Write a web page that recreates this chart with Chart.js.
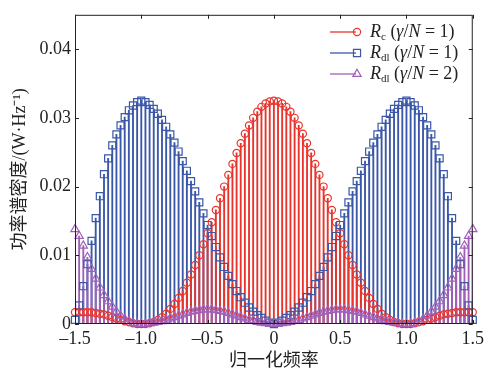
<!DOCTYPE html>
<html>
<head>
<meta charset="utf-8">
<script src="https://cdn.jsdelivr.net/npm/chart.js@4"></script>
<style>
  body { margin: 0; background: #fff; }
  #wrap { width: 488px; height: 370px; }
</style>
</head>
<body>
<div id="wrap"><canvas id="psd"></canvas></div>
<script>
// normalized frequency grid (step 1/32)
const freq = [-1.5, -1.46875, -1.4375, -1.40625, -1.375, -1.34375, -1.3125, -1.28125, -1.25, -1.21875, -1.1875, -1.15625,
  -1.125, -1.09375, -1.0625, -1.03125, -1, -0.96875, -0.9375, -0.90625, -0.875, -0.84375, -0.8125, -0.78125,
  -0.75, -0.71875, -0.6875, -0.65625, -0.625, -0.59375, -0.5625, -0.53125, -0.5, -0.46875, -0.4375, -0.40625,
  -0.375, -0.34375, -0.3125, -0.28125, -0.25, -0.21875, -0.1875, -0.15625, -0.125, -0.09375, -0.0625, -0.03125,
  0,
  0.03125, 0.0625, 0.09375, 0.125, 0.15625, 0.1875, 0.21875, 0.25, 0.28125, 0.3125, 0.34375, 0.375,
  0.40625, 0.4375, 0.46875, 0.5, 0.53125, 0.5625, 0.59375, 0.625, 0.65625, 0.6875, 0.71875, 0.75,
  0.78125, 0.8125, 0.84375, 0.875, 0.90625, 0.9375, 0.96875, 1, 1.03125, 1.0625, 1.09375, 1.125,
  1.15625, 1.1875, 1.21875, 1.25, 1.28125, 1.3125, 1.34375, 1.375, 1.40625, 1.4375, 1.46875, 1.5];

// R_c (gamma/N = 1)
const rc = [0.0017, 0.0017, 0.0017, 0.0017, 0.0017, 0.0016, 0.0015, 0.0014, 0.0012, 0.0010, 0.0008, 0.0006,
  0.0004, 0.0003, 0.0001, 0, 0, 0, 0.0001, 0.0003, 0.0006, 0.0010, 0.0015, 0.0022,
  0.0029, 0.0038, 0.0048, 0.0060, 0.0072, 0.0086, 0.0100, 0.0116, 0.0132, 0.0148, 0.0166, 0.0183,
  0.0200, 0.0217, 0.0233, 0.0249, 0.0263, 0.0277, 0.0289, 0.0300, 0.0309, 0.0316, 0.0321, 0.0324,
  0.0325,
  0.0324, 0.0321, 0.0316, 0.0309, 0.0300, 0.0289, 0.0277, 0.0263, 0.0249, 0.0233, 0.0217, 0.0200,
  0.0183, 0.0166, 0.0148, 0.0132, 0.0116, 0.0100, 0.0086, 0.0072, 0.0060, 0.0048, 0.0038, 0.0029,
  0.0022, 0.0015, 0.0010, 0.0006, 0.0003, 0.0001, 0, 0, 0, 0.0001, 0.0003, 0.0004,
  0.0006, 0.0008, 0.0010, 0.0012, 0.0014, 0.0015, 0.0016, 0.0017, 0.0017, 0.0017, 0.0017, 0.0017];

// R_dl (gamma/N = 1)
const rdl1 = [0.0006, 0.0027, 0.0055, 0.0087, 0.0121, 0.0154, 0.0186, 0.0218, 0.0241, 0.0260, 0.0276, 0.0289,
  0.0301, 0.0311, 0.0318, 0.0323, 0.0325, 0.0323, 0.0319, 0.0313, 0.0306, 0.0297, 0.0287, 0.0276,
  0.0264, 0.0251, 0.0237, 0.0223, 0.0208, 0.0193, 0.0177, 0.0161, 0.0144, 0.0128, 0.0112, 0.0097,
  0.0083, 0.0070, 0.0058, 0.0048, 0.0039, 0.0031, 0.0024, 0.0018, 0.0013, 0.0009, 0.0005, 0.0002,
  0,
  0.0002, 0.0005, 0.0009, 0.0013, 0.0018, 0.0024, 0.0031, 0.0039, 0.0048, 0.0058, 0.0070, 0.0083,
  0.0097, 0.0112, 0.0128, 0.0144, 0.0161, 0.0177, 0.0193, 0.0208, 0.0223, 0.0237, 0.0251, 0.0264,
  0.0276, 0.0287, 0.0297, 0.0306, 0.0313, 0.0319, 0.0323, 0.0325, 0.0323, 0.0318, 0.0311, 0.0301,
  0.0289, 0.0276, 0.0260, 0.0241, 0.0218, 0.0186, 0.0154, 0.0121, 0.0087, 0.0055, 0.0027, 0.0006];

// R_dl (gamma/N = 2)
const rdl2 = [0.0138, 0.0128, 0.0114, 0.0097, 0.0080, 0.0066, 0.0053, 0.0042, 0.0033, 0.0025, 0.0018, 0.0012,
  0.0007, 0.0004, 0.0001, 0, 0, 0, 0.0001, 0.0002, 0.0003, 0.0004, 0.0006, 0.0008,
  0.0010, 0.0012, 0.0014, 0.0016, 0.0018, 0.0019, 0.0020, 0.0021, 0.0021, 0.0021, 0.0020, 0.0019,
  0.0018, 0.0016, 0.0014, 0.0012, 0.0010, 0.0008, 0.0006, 0.0005, 0.0003, 0.0002, 0.0001, 0,
  0,
  0, 0.0001, 0.0002, 0.0003, 0.0005, 0.0006, 0.0008, 0.0010, 0.0012, 0.0014, 0.0016, 0.0018,
  0.0019, 0.0020, 0.0021, 0.0021, 0.0021, 0.0020, 0.0019, 0.0018, 0.0016, 0.0014, 0.0012, 0.0010,
  0.0008, 0.0006, 0.0004, 0.0003, 0.0002, 0.0001, 0, 0, 0, 0.0001, 0.0004, 0.0007,
  0.0012, 0.0018, 0.0025, 0.0033, 0.0042, 0.0053, 0.0066, 0.0080, 0.0097, 0.0114, 0.0128, 0.0138];

const xTicks = [-1.5, -1, -0.5, 0, 0.5, 1, 1.5];
const yTicks = [0, 0.01, 0.02, 0.03, 0.04];

const RED = '#e8342c', BLUE = '#3a57a8', PURPLE = '#a060b8';
const serif = "'Liberation Serif', 'Noto Sans CJK SC', serif";

function pts(vals) {
  return freq.map((x, i) => ({ x: x, y: vals[i] }));
}

// stems drawn as thin bars, overlaid (not grouped) at the same x
function stem(vals, color, order) {
  return { type: 'bar', data: pts(vals), backgroundColor: color, borderWidth: 0,
    barThickness: 1.2, grouped: false, order: order };
}

function marks(vals, color, style, r, order) {
  return { type: 'scatter', data: pts(vals), showLine: false, pointStyle: style,
    pointRadius: r, pointBorderWidth: 1.2, pointBorderColor: color,
    pointBackgroundColor: 'rgba(0,0,0,0)', clip: false, order: order };
}

// frame, inward ticks and legend
const decor = {
  id: 'decor',
  afterDraw(chart) {
    const ctx = chart.ctx, a = chart.chartArea;
    const xs = chart.scales.x, ys = chart.scales.y;
    ctx.save();
    ctx.strokeStyle = '#222';
    ctx.lineWidth = 1;
    ctx.strokeRect(a.left + 0.5, a.top + 0.5, a.right - a.left - 1, a.bottom - a.top - 1);
    ctx.beginPath();
    xTicks.forEach(v => {
      const px = Math.round(xs.getPixelForValue(v)) + 0.5;
      ctx.moveTo(px, a.bottom); ctx.lineTo(px, a.bottom - 4);
      ctx.moveTo(px, a.top); ctx.lineTo(px, a.top + 4);
    });
    yTicks.forEach(v => {
      const py = Math.round(ys.getPixelForValue(v)) + 0.5;
      ctx.moveTo(a.left, py); ctx.lineTo(a.left + 4, py);
      ctx.moveTo(a.right, py); ctx.lineTo(a.right - 4, py);
    });
    ctx.stroke();

    // legend
    const rows = [
      { color: RED, style: 'circle', r: 3.6, sub: 'c', n: '1' },
      { color: BLUE, style: 'rect', r: 5, sub: 'dl', n: '1' },
      { color: PURPLE, style: 'triangle', r: 4.8, sub: 'dl', n: '2' }
    ];
    rows.forEach((row, i) => {
      const y = 32 + i * 21;
      ctx.strokeStyle = row.color;
      ctx.lineWidth = 1.3;
      ctx.beginPath(); ctx.moveTo(330, y); ctx.lineTo(356, y); ctx.stroke();
      ctx.lineWidth = 1.2;
      ctx.fillStyle = 'rgba(0,0,0,0)';
      Chart.helpers.drawPoint(ctx, { pointStyle: row.style, radius: row.r, rotation: 0, borderWidth: 1.2 }, 357, y);
      ctx.fillStyle = '#222';
      ctx.textBaseline = 'middle';
      ctx.textAlign = 'left';
      let x = 370;
      const parts = [
        { t: 'R', f: 'italic 18px' },
        { t: row.sub, f: '11px', dy: 5 },
        { t: ' (', f: '18px' },
        { t: 'γ', f: 'italic 18px' },
        { t: '/', f: '18px' },
        { t: 'N', f: 'italic 18px' },
        { t: ' = ' + row.n + ')', f: '18px' }
      ];
      parts.forEach(p => {
        ctx.font = p.f + ' ' + serif;
        ctx.fillText(p.t, x, y + (p.dy || 0));
        x += ctx.measureText(p.t).width;
      });
    });
    ctx.restore();
  }
};

new Chart(document.getElementById('psd'), {
  data: {
    datasets: [
      marks(rdl2, PURPLE, 'triangle', 4.8, 1),
      marks(rdl1, BLUE, 'rect', 5, 2),
      marks(rc, RED, 'circle', 3.6, 3),
      stem(rdl2, PURPLE, 4),
      stem(rc, RED, 5),
      stem(rdl1, BLUE, 6)
    ]
  },
  options: {
    responsive: true,
    maintainAspectRatio: false,
    animation: false,
    devicePixelRatio: 1,
    layout: { padding: { top: 12, right: 12, left: 0, bottom: 0 } },
    plugins: { legend: { display: false }, tooltip: { enabled: false } },
    scales: {
      x: {
        type: 'linear', min: -1.5, max: 1.5, offset: false,
        grid: { display: false, drawTicks: false },
        border: { display: false },
        afterBuildTicks: s => { s.ticks = xTicks.map(v => ({ value: v })); },
        afterFit: s => { s.height = 46; },
        ticks: {
          padding: 4, color: '#222', maxRotation: 0, autoSkip: false,
          font: { family: serif, size: 18 },
          callback: v => v === 0 ? '0' : (v < 0 ? '\u2013' : '') + Math.abs(v).toFixed(1)
        },
        title: {
          display: true, text: '归一化频率', color: '#222',
          font: { family: serif, size: 18, lineHeight: 1 }, padding: { top: 0, bottom: 0 }
        }
      },
      y: {
        type: 'linear', min: 0, max: 0.045,
        grid: { display: false, drawTicks: false },
        border: { display: false },
        afterBuildTicks: s => { s.ticks = yTicks.map(v => ({ value: v })); },
        afterFit: s => { s.width = 75; },
        ticks: {
          padding: 4, color: '#222',
          font: { family: serif, size: 18 },
          callback: v => v === 0 ? '0' : v.toFixed(2)
        },
        title: {
          display: true, text: '功率谱密度/(W·Hz⁻¹)', color: '#222',
          font: { family: serif, size: 18, lineHeight: 1 }, padding: { top: 11, bottom: 0 }
        }
      }
    }
  },
  plugins: [decor]
});
</script>
</body>
</html>
